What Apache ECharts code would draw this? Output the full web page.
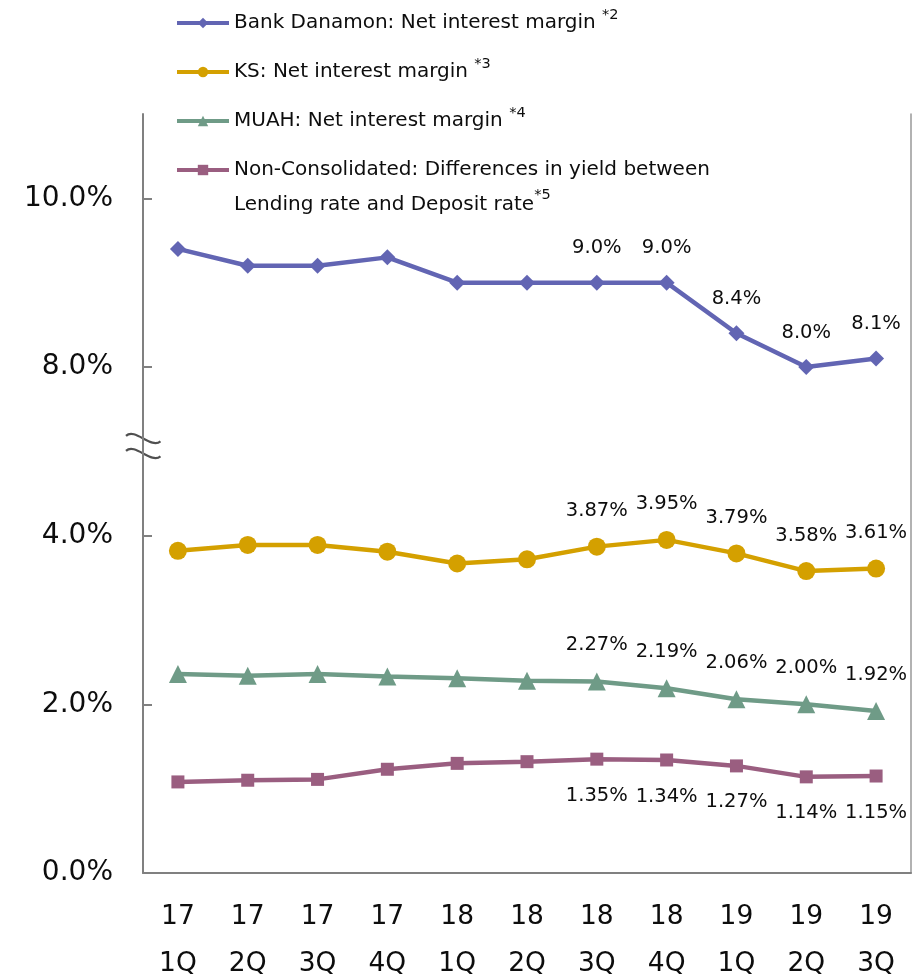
<!DOCTYPE html>
<html>
<head>
<meta charset="utf-8">
<script src="https://cdn.jsdelivr.net/npm/echarts@6/dist/echarts.min.js"></script>
<style>
html,body{margin:0;padding:0;background:#fff;}
#chart{width:917px;height:980px;}
</style>
</head>
<body>
<div id="chart"></div>
<script>
// ---------- data ----------
const categories = ['17\n1Q','17\n2Q','17\n3Q','17\n4Q','18\n1Q','18\n2Q','18\n3Q','18\n4Q','19\n1Q','19\n2Q','19\n3Q'];

const danamonName = 'Bank Danamon: Net interest margin';
const ksName = 'KS: Net interest margin';
const muahName = 'MUAH: Net interest margin';
const nonConsolName = 'Non-Consolidated: Differences in yield between\nLending rate and Deposit rate';

const danamonNote = ' {sup|*2}';
const ksNote = ' {sup|*3}';
const muahNote = ' {sup|*4}';
const nonConsolNote = '{sup|*5}';

const danamon   = [9.4, 9.2, 9.2, 9.3, 9.0, 9.0, 9.0, 9.0, 8.4, 8.0, 8.1];
const ks        = [3.82, 3.89, 3.89, 3.81, 3.67, 3.72, 3.87, 3.95, 3.79, 3.58, 3.61];
const muah      = [2.36, 2.34, 2.36, 2.33, 2.31, 2.28, 2.27, 2.19, 2.06, 2.00, 1.92];
const nonConsol = [1.08, 1.10, 1.11, 1.23, 1.30, 1.32, 1.35, 1.34, 1.27, 1.14, 1.15];

// first category index that carries a data label
const firstLabeledIndex = 6;

// y axis (broken between 4% and 8%): axis positions and their tick labels
const yTickPositions = [0, 2, 4, 6, 8];
const yTickLabels = ['0.0%', '2.0%', '4.0%', '8.0%', '10.0%'];
const breakLower = 4;   // last value below the break
const breakUpper = 8;   // first value above the break
const breakStep = 2;    // the break occupies one tick step on the axis

// map a real value onto the broken axis
function toAxis(v) {
  return v >= breakUpper ? v - (breakUpper - breakLower - breakStep) : v;
}

// ---------- chart ----------
const FONT = 'DejaVu Sans';
const TEXT = '#0d0d0d';
const AXIS = '#808080';
const GRID_LEFT = 143;

const chart = echarts.init(document.getElementById('chart'), null, {renderer: 'canvas'});

function makeSeries(name, values, color, symbol, size, digits, pos, dist) {
  return {
    name: name,
    type: 'line',
    data: values.map(toAxis),
    symbol: symbol,
    symbolSize: size,
    color: color,
    lineStyle: {width: 4.5, color: color},
    itemStyle: {color: color},
    label: {
      show: true,
      position: pos,
      distance: dist,
      fontFamily: FONT,
      fontSize: 19.5,
      color: TEXT,
      formatter: function (p) {
        return p.dataIndex >= firstLabeledIndex ? values[p.dataIndex].toFixed(digits) + '%' : '';
      }
    },
    emphasis: {disabled: true},
    animation: false
  };
}

const supRich1 = {sup: {fontFamily: FONT, fontSize: 14.5, lineHeight: 16, verticalAlign: 'top', color: TEXT}};
const supRich2 = {sup: {fontFamily: FONT, fontSize: 14.5, lineHeight: 23, verticalAlign: 'top', color: TEXT}};

const notes = {};
notes[danamonName] = danamonNote;
notes[ksName] = ksNote;
notes[muahName] = muahNote;
notes[nonConsolName] = nonConsolNote;

const option = {
  animation: false,
  backgroundColor: '#ffffff',
  textStyle: {fontFamily: FONT},
  grid: {left: GRID_LEFT, right: 6, top: 114, bottom: 107, containLabel: false, outerBoundsMode: 'none'},
  legend: [
    {
      orient: 'vertical',
      left: 175,
      top: 8,
      padding: 0,
      itemGap: 19,
      itemWidth: 52,
      itemHeight: 13,
      selectedMode: false,
      lineStyle: {width: 4},
      data: [danamonName, ksName, muahName],
      formatter: function (n) { return n + notes[n]; },
      textStyle: {fontFamily: FONT, fontSize: 20, lineHeight: 30, color: TEXT, rich: supRich1}
    },
    {
      orient: 'vertical',
      left: 175,
      top: 117.5,
      padding: 0,
      itemWidth: 52,
      itemHeight: 13,
      selectedMode: false,
      lineStyle: {width: 4},
      data: [nonConsolName],
      formatter: function (n) { return n + notes[n]; },
      textStyle: {fontFamily: FONT, fontSize: 20, lineHeight: 35, color: TEXT, padding: [35, 0, 0, 0], rich: supRich2}
    }
  ],
  xAxis: {
    type: 'category',
    data: categories,
    boundaryGap: true,
    axisLine: {show: true, lineStyle: {color: AXIS, width: 2}},
    axisTick: {show: false},
    axisLabel: {fontFamily: FONT, fontSize: 26.5, lineHeight: 47, color: TEXT, margin: 21, interval: 0},
    splitLine: {show: false}
  },
  yAxis: [
    {
      type: 'value',
      min: 0,
      max: 9,
      interval: 2,
      position: 'left',
      axisLine: {show: true, lineStyle: {color: AXIS, width: 2}},
      axisTick: {show: true, inside: true, length: 9, lineStyle: {color: AXIS, width: 2}, customValues: yTickPositions},
      axisLabel: {
        customValues: yTickPositions,
        fontFamily: FONT, fontSize: 28, color: TEXT, margin: 30,
        formatter: function (v) {
          const i = yTickPositions.indexOf(v);
          return i >= 0 ? yTickLabels[i] : '';
        }
      },
      splitLine: {show: false}
    },
    {
      type: 'value',
      min: 0,
      max: 9,
      position: 'right',
      axisLine: {show: true, lineStyle: {color: '#999999', width: 1.5}},
      axisTick: {show: false},
      axisLabel: {show: false},
      splitLine: {show: false}
    }
  ],
  series: [
    makeSeries(danamonName, danamon, '#6265B3', 'diamond', 16, 1, 'top', 16.5),
    makeSeries(ksName, ks, '#D4A000', 'circle', 18, 2, 'top', 16.5),
    makeSeries(muahName, muah, '#6F9B87', 'triangle', 18, 2, 'top', 17.5),
    makeSeries(nonConsolName, nonConsol, '#9A5E80', 'rect', 13, 2, 'bottom', 20)
  ]
};

chart.setOption(option);

// axis-break mark ("≈") on the y axis between 4% and 8%
const midY = chart.convertToPixel({yAxisIndex: 0}, (breakLower + breakLower + breakStep) / 2) - 6;
function wave(dy) {
  return {
    type: 'bezierCurve',
    shape: {x1: -17, y1: -9.5 + dy, cpx1: -8, cpy1: -18 + dy, cpx2: 8, cpy2: 4 + dy, x2: 17.5, y2: -4 + dy},
    style: {stroke: '#505050', lineWidth: 2.2, fill: null},
    silent: true
  };
}
chart.setOption({
  graphic: [{
    type: 'group',
    x: GRID_LEFT,
    y: midY,
    z: 100,
    children: [wave(0), wave(15)]
  }]
});
</script>
</body>
</html>
